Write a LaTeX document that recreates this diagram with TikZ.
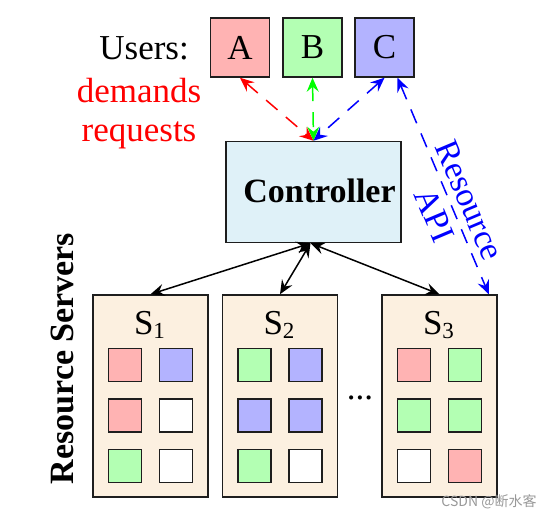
\documentclass[tikz,border=0pt]{standalone}
\usepackage{fontspec}
\setmainfont{Liberation Serif}
\newfontfamily\cjkfont{Noto Sans CJK SC}
\usetikzlibrary{arrows.meta}
\definecolor{redf}{RGB}{255,179,179}
\definecolor{greenf}{RGB}{179,255,179}
\definecolor{bluef}{RGB}{179,179,255}
\definecolor{ctrlf}{RGB}{223,241,248}
\definecolor{srvf}{RGB}{252,240,224}
\definecolor{edge}{RGB}{30,30,30}
\begin{document}
\begin{tikzpicture}[x=1pt,y=-1pt,
  txt/.style={font=\fontsize{35}{39}\selectfont, inner sep=0pt},
  user/.style={draw=edge, line width=1.5pt, minimum width=59pt, minimum height=59pt, inner sep=0pt, font=\fontsize{35}{39}\selectfont},
  ctrlbox/.style={draw=edge, line width=1.5pt, fill=ctrlf, minimum width=175pt, minimum height=101pt, inner sep=0pt},
  srv/.style={draw=edge, line width=1.5pt, fill=srvf, minimum width=115pt, minimum height=202pt, inner sep=0pt},
  cell/.style={draw=edge, line width=1.5pt, minimum size=33pt, inner sep=0pt},
  tip/.style={arrows={Stealth[length=14pt,width=12pt,inset=5pt]-Stealth[length=14pt,width=12pt,inset=5pt]}},
  dsh/.style={tip, line width=1.5pt, dash pattern=on 15pt off 11pt},
  link/.style={tip, line width=1.5pt, black}
]
\useasboundingbox (0,0) rectangle (555,518);
% users
\node[user, fill=redf] (A) at (240,47.5) {A};
\node[user, fill=greenf] (B) at (312.5,47.5) {B};
\node[user, fill=bluef] (C) at (384.5,47.5) {C};
\node[txt, anchor=base east] (users) at (189,60) {Users:};
\node[txt, anchor=base, text=red] (dem) at (139,103) {demands};
\node[txt, anchor=base, text=red] (req) at (139,142) {requests};
% controller
\node[ctrlbox] (ctrl) at (313.5,192) {};
\node[inner sep=0pt, anchor=base, font=\fontsize{34}{38}\selectfont\bfseries] (ctrltxt) at (319.5,203) {Controller};
% servers
\node[srv] (S1) at (150.5,396) {};
\node[srv] (S2) at (280,396) {};
\node[srv] (S3) at (439.5,396) {};
\foreach \s/\n/\cx in {S1/1/150.5,S2/2/280,S3/3/439.5}{
  \node[txt, anchor=base] (\s lab) at (\cx-1,335) {S\raisebox{-4pt}{\fontsize{23}{23}\selectfont\n}};
}
% cells
\foreach \s/\cx/\ca/\cb/\cc/\cd/\ce/\cf in {
  S1/150.5/redf/bluef/redf/white/greenf/white,
  S2/280/greenf/bluef/bluef/bluef/greenf/white,
  S3/439.5/redf/greenf/greenf/greenf/white/redf}{
  \node[cell, fill=\ca] (\s a) at (\cx-25.5,365) {};
  \node[cell, fill=\cb] (\s b) at (\cx+25.5,365) {};
  \node[cell, fill=\cc] (\s c) at (\cx-25.5,415.5) {};
  \node[cell, fill=\cd] (\s d) at (\cx+25.5,415.5) {};
  \node[cell, fill=\ce] (\s e) at (\cx-25.5,466) {};
  \node[cell, fill=\cf] (\s f) at (\cx+25.5,466) {};
}
\node[txt, anchor=base] (dots) at (360,400) {...};
\node[font=\fontsize{34}{38}\selectfont\bfseries, inner sep=0pt, rotate=90] (rs) at (62,358.5) {Resource Servers};
% connectors
\draw[dsh, red] (A.south) -- (ctrl.north);
\draw[dsh, green] (B.south) -- (ctrl.north);
\draw[dsh, blue] (C.south) -- (ctrl.north);
\draw[dsh, blue] ([xshift=13pt]C.south) -- node[pos=0.6, sloped, align=center, text=blue, font=\fontsize{34}{38}\selectfont, inner sep=0pt] (api) {Resource\\API} ([xshift=-9pt]S3.north east);
\draw[link] ([xshift=-3pt]ctrl.south) -- (S1.north);
\draw[link] ([xshift=-3pt]ctrl.south) -- (S2.north);
\draw[link] ([xshift=-3pt]ctrl.south) -- (S3.north);
% watermark
\node[font=\cjkfont\fontsize{14}{16}\selectfont, text=black!40, inner sep=0pt] (wm) at (489,502) {CSDN @断水客};
\end{tikzpicture}
\end{document}
